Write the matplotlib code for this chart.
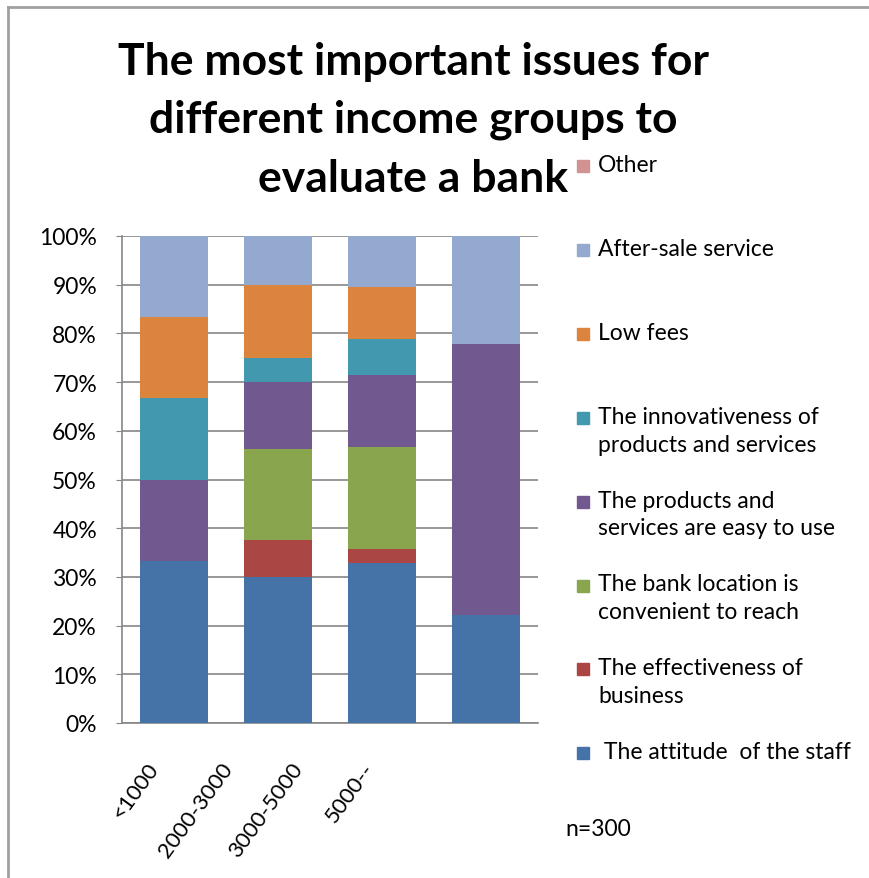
import numpy as np
import matplotlib
matplotlib.use("Agg")
import matplotlib.pyplot as plt
from matplotlib.patches import Rectangle

plt.rcParams['font.family'] = ['Lato', 'DejaVu Sans']

# income groups and the share (%) of each issue
groups = ["<1000", "2000-3000", "3000-5000", "5000--"]
staff = [33.3, 30.0, 32.9, 22.2]
effectiveness = [0.0, 7.5, 2.8, 0.0]
location = [0.0, 18.75, 21.0, 0.0]
easy_use = [16.7, 13.75, 14.8, 55.6]
innovative = [16.7, 5.0, 7.4, 0.0]
low_fees = [16.7, 15.0, 10.6, 0.0]
after_sale = [16.6, 10.0, 10.5, 22.2]
other = [0.0, 0.0, 0.0, 0.0]

series = [
    (" The attitude  of the staff", staff, "#4572A7"),
    ("The effectiveness of\nbusiness", effectiveness, "#AA4643"),
    ("The bank location is\nconvenient to reach", location, "#89A54E"),
    ("The products and\nservices are easy to use", easy_use, "#71588F"),
    ("The innovativeness of\nproducts and services", innovative, "#4198AF"),
    ("Low fees", low_fees, "#DB843D"),
    ("After-sale service", after_sale, "#93A9CF"),
    ("Other", other, "#D19392"),
]

title_lines = ["The most important issues for", "different income groups to", "evaluate a bank"]

W, H = 869, 879
fig = plt.figure(figsize=(W / 100, H / 100), dpi=100)
ax = fig.add_axes([122 / W, 1 - 724 / H, 416 / W, 487 / H])

x = np.arange(len(groups))
bottom = np.zeros(len(groups))
for name, vals, col in series:
    v = np.array(vals)
    ax.bar(x, v, 0.65, bottom=bottom, color=col, zorder=3)
    bottom += v

grey = "#868686"
ax.set_xlim(-0.5, 3.5)
ax.set_ylim(0, 100)
ax.set_yticks(np.arange(0, 101, 10))
ax.set_yticklabels([f"{t}%" for t in range(0, 101, 10)], fontsize=16.5)
ax.yaxis.grid(True, color=grey, linewidth=1.2, zorder=0)
ax.tick_params(axis='y', length=4, color=grey, pad=14)
ax.set_xticks(x)
ax.set_xticklabels([])
ax.tick_params(axis='x', length=0)
for s in ["top", "right"]:
    ax.spines[s].set_visible(False)
for s in ["left", "bottom"]:
    ax.spines[s].set_color(grey)
    ax.spines[s].set_linewidth(1.2)

# category labels sit a bit off the bars, as in the original
label_x = [-0.19, 0.52, 1.20, 1.88]
for lx, g in zip(label_x, groups):
    ax.text(lx, -0.085, g, transform=ax.get_xaxis_transform(), rotation=54,
            rotation_mode='anchor', ha='right', va='center', fontsize=16)

# title, one line at a time
for yb, line in zip([75, 133, 192], title_lines):
    fig.text(413 / W, 1 - yb / H, line, ha='center', va='baseline',
             fontsize=32, fontweight='bold')

# legend, top entry first
for i, (name, vals, col) in enumerate(series[::-1]):
    yc = 167 + i * 83.9
    fig.patches.append(Rectangle((577 / W, 1 - (yc + 6) / H), 12 / W, 12 / H,
                                 transform=fig.transFigure, color=col, figure=fig))
    fig.text(598 / W, 1 - (yc - 12) / H, name, ha='left', va='top', fontsize=16.5,
             linespacing=1.4)

fig.text(565 / W, 1 - 830 / H, "n=300", ha='left', va='center', fontsize=16.5)

# outer frame (only top and left edges are visible in the original)
fig.add_artist(plt.Line2D([8 / W, 8 / W], [0, 1 - 8 / H], color="#A0A0A0", linewidth=2,
                          transform=fig.transFigure))
fig.add_artist(plt.Line2D([8 / W, 1], [1 - 8 / H, 1 - 8 / H], color="#A0A0A0", linewidth=2,
                          transform=fig.transFigure))

fig.savefig("out.png", dpi=100)
